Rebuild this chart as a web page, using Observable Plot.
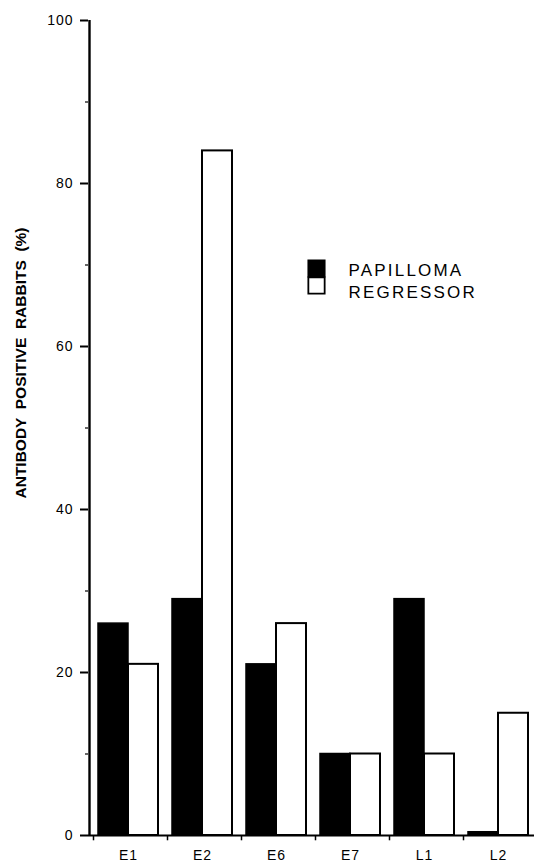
<!DOCTYPE html>
<html>
<head>
<meta charset="utf-8">
<script src="https://cdn.jsdelivr.net/npm/d3@7"></script>
<script src="https://cdn.jsdelivr.net/npm/@observablehq/plot@0.6"></script>
<style>
  html, body { margin: 0; padding: 0; background: #fff; }
  #chart { width: 534px; height: 863px; }
</style>
</head>
<body>
<div id="chart"></div>
<script>
const categories = ["E1", "E2", "E6", "E7", "L1", "L2"];
const papilloma = [26, 29, 21, 10, 29, 0.4];
const regressor = [21, 84, 26, 10, 10, 15];
const series = ["PAPILLOMA", "REGRESSOR"];
const yTicks = [0, 20, 40, 60, 80, 100];
const yMinorTicks = [10, 30, 50, 70, 90];
const yTitle = "ANTIBODY  POSITIVE  RABBITS  (%)";

const papData = categories.map((c, i) => ({category: c, value: papilloma[i]}));
const regData = categories.map((c, i) => ({category: c, value: regressor[i]}));

const W = 534, H = 863, ML = 88, MR = 0, MT = 20, MB = 28;
const frameW = W - ML - MR;

const legendMarks = series.flatMap((s, i) => [
  Plot.dot([s], {
    frameAnchor: "top-left", dx: 228, dy: 248 + i * 17,
    symbol: "square", r: 9.2,
    fill: i === 0 ? "black" : "white", stroke: "black", strokeWidth: 1.8
  }),
  Plot.text([s], {
    text: d => d, frameAnchor: "top-left", dx: 260, dy: 250.5 + i * 22,
    textAnchor: "start", lineAnchor: "middle", fontSize: 17, fill: "black",
    className: "legend-text"
  })
]);

const chart = Plot.plot({
  width: W, height: H,
  marginLeft: ML, marginRight: MR, marginTop: MT, marginBottom: MB,
  style: {background: "white", color: "black", fontFamily: "'Liberation Sans', Arial, Helvetica, sans-serif", fontSize: "14px", overflow: "visible"},
  x: {
    domain: categories, paddingInner: 0.19, paddingOuter: 0,
    insetLeft: 9, insetRight: 6,
    tickSize: 0, tickPadding: 15, label: null
  },
  y: {
    domain: [0, 100], ticks: yTicks, tickSize: 0, tickPadding: 15,
    label: null
  },
  marks: [
    Plot.barY(papData, {x: "category", y: "value", fill: "black", stroke: "black", strokeWidth: 1.5, insetRight: 30}),
    Plot.barY(regData, {x: "category", y: "value", fill: "white", stroke: "black", strokeWidth: 2, insetLeft: 30}),
    Plot.ruleY([0], {stroke: "black", strokeWidth: 2.2}),
    Plot.ruleX([categories[0]], {x: d => d, y1: 0, y2: 100, dx: -39, stroke: "black", strokeWidth: 2.4}),
    Plot.ruleX(categories, {x: d => d, y1: 0, y2: -0.65, dx: -35, stroke: "black", strokeWidth: 1.5}),
    Plot.ruleY(yTicks, {y: d => d, insetRight: frameW - 8, dx: -8, stroke: "black", strokeWidth: 2}),
    Plot.ruleY(yMinorTicks, {y: d => d, insetRight: frameW - 3, dx: -3, stroke: "black", strokeWidth: 1.2}),
    Plot.text([yTitle], {
      text: d => d, frameAnchor: "left", textAnchor: "middle", lineAnchor: "middle",
      dx: -67, dy: -65, rotate: -90,
      fontSize: 15.5, fontWeight: "bold", fill: "black"
    }),
    ...legendMarks
  ]
});

document.getElementById("chart").appendChild(chart);
const svg = d3.select(chart);
svg.selectAll("[aria-label^='y-axis'] text, [aria-label^='x-axis'] text").style("letter-spacing", "1px");
svg.selectAll(".legend-text text, text.legend-text").style("letter-spacing", "2.2px");
</script>
</body>
</html>
